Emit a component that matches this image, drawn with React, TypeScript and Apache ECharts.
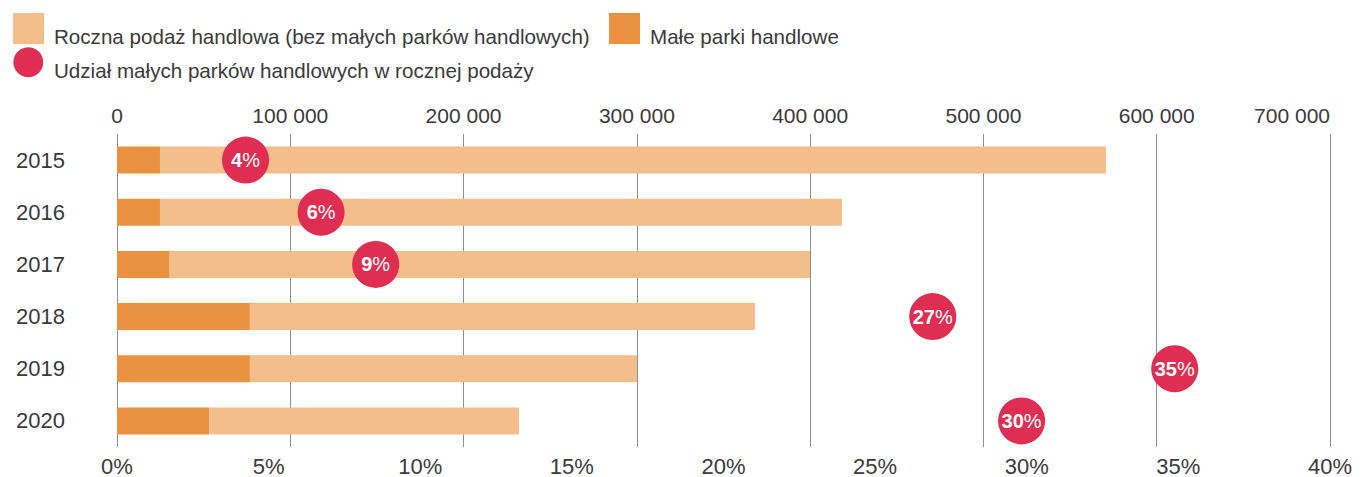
import React, { useEffect, useRef } from "react";
import * as echarts from "echarts";

const years = ["2015", "2016", "2017", "2018", "2019", "2020"];
// Małe parki handlowe (m²)
const smallParks = [24800, 24800, 30000, 76700, 76700, 53300];
// Roczna podaż handlowa bez małych parków (m²)
const otherSupply = [545900, 393600, 369900, 291500, 223400, 178700];
// Udział małych parków (%), position and printed label
const shareValues = [4.24, 6.73, 8.53, 26.9, 34.88, 29.83];
const shareLabels = ["4", "6", "9", "27", "35", "30"];
const topTicks = ["0", "100 000", "200 000", "300 000", "400 000", "500 000", "600 000", "700 000"];
const pctTicks = ["0%", "5%", "10%", "15%", "20%", "25%", "30%", "35%", "40%"];

const NAME_LIGHT = "Roczna podaż handlowa (bez małych parków handlowych)";
const NAME_DARK = "Małe parki handlowe";
const NAME_SHARE = "Udział małych parków handlowych w rocznej podaży";

const LIGHT = "#F3BD8C";
const DARK = "#EA9142";
const RED = "#E02D52";
const TEXT = "#3a3a3a";
const FONT = "'Liberation Sans', Arial, sans-serif";

export default function App() {
  const ref = useRef<HTMLDivElement>(null);
  useEffect(() => {
    if (!ref.current) return;
    const chart = echarts.init(ref.current, null, { renderer: "svg" });
    const legendFont = { fontSize: 20.6, fontFamily: FONT, fill: TEXT, verticalAlign: "middle" };
    chart.setOption({
      animation: false,
      backgroundColor: "#ffffff",
      textStyle: { fontFamily: FONT },
      graphic: [
        { type: "rect", left: 13, top: 13, shape: { width: 31, height: 31 }, style: { fill: LIGHT } },
        { type: "text", x: 54, y: 36, style: { text: NAME_LIGHT, ...legendFont } },
        { type: "rect", left: 609, top: 13, shape: { width: 31, height: 31 }, style: { fill: DARK } },
        { type: "text", x: 650, y: 36, style: { text: NAME_DARK, ...legendFont } },
        { type: "circle", shape: { cx: 28.3, cy: 62.3, r: 15 }, style: { fill: RED } },
        { type: "text", x: 54, y: 70, style: { text: NAME_SHARE, ...legendFont } },
      ],
      grid: { left: 117, right: 32, top: 134, bottom: 29, containLabel: false },
      xAxis: [
        {
          type: "value",
          position: "top",
          min: 0,
          max: 700000,
          interval: 100000,
          axisLine: { show: false },
          axisTick: { show: false },
          axisLabel: {
            margin: 8,
            fontSize: 21,
            color: TEXT,
            fontFamily: FONT,
            alignMaxLabel: "right",
            formatter: (v: number) => topTicks[Math.round(v / 100000)] ?? "",
          },
          splitLine: { show: true, lineStyle: { color: "#8f8f8f", width: 1 } },
        },
        {
          type: "value",
          position: "bottom",
          min: 0,
          max: 40,
          interval: 5,
          axisLine: { show: false },
          axisTick: { show: false },
          splitLine: { show: false },
          axisLabel: {
            margin: 8,
            fontSize: 22,
            color: TEXT,
            fontFamily: FONT,
            formatter: (v: number) => pctTicks[Math.round(v / 5)] ?? "",
          },
        },
      ],
      yAxis: {
        type: "category",
        data: years,
        inverse: true,
        axisLine: { show: false },
        axisTick: { show: false },
        axisLabel: { margin: 52, fontSize: 22, color: TEXT, fontFamily: FONT },
      },
      series: [
        {
          name: NAME_DARK,
          type: "bar",
          stack: "supply",
          xAxisIndex: 0,
          barWidth: 27,
          itemStyle: { color: DARK },
          data: smallParks,
        },
        {
          name: NAME_LIGHT,
          type: "bar",
          stack: "supply",
          xAxisIndex: 0,
          barWidth: 27,
          itemStyle: { color: LIGHT },
          data: otherSupply,
        },
        {
          name: NAME_SHARE,
          type: "scatter",
          xAxisIndex: 1,
          symbol: "circle",
          symbolSize: 47,
          itemStyle: { color: RED, opacity: 1 },
          z: 5,
          data: shareValues.map((v, i) => [v, years[i]]),
          label: {
            show: true,
            position: "inside",
            formatter: (p: any) => `{b|${shareLabels[p.dataIndex]}}{n|%}`,
            rich: {
              b: { fontSize: 20, fontWeight: "bold", color: "#ffffff", fontFamily: FONT },
              n: { fontSize: 20, fontWeight: "normal", color: "#ffffff", fontFamily: FONT },
            },
          },
        },
      ],
    });
    return () => chart.dispose();
  }, []);
  return (
    <div
      ref={ref}
      style={{ position: "absolute", left: 0, top: 0, width: 1362, height: 477 }}
    />
  );
}
